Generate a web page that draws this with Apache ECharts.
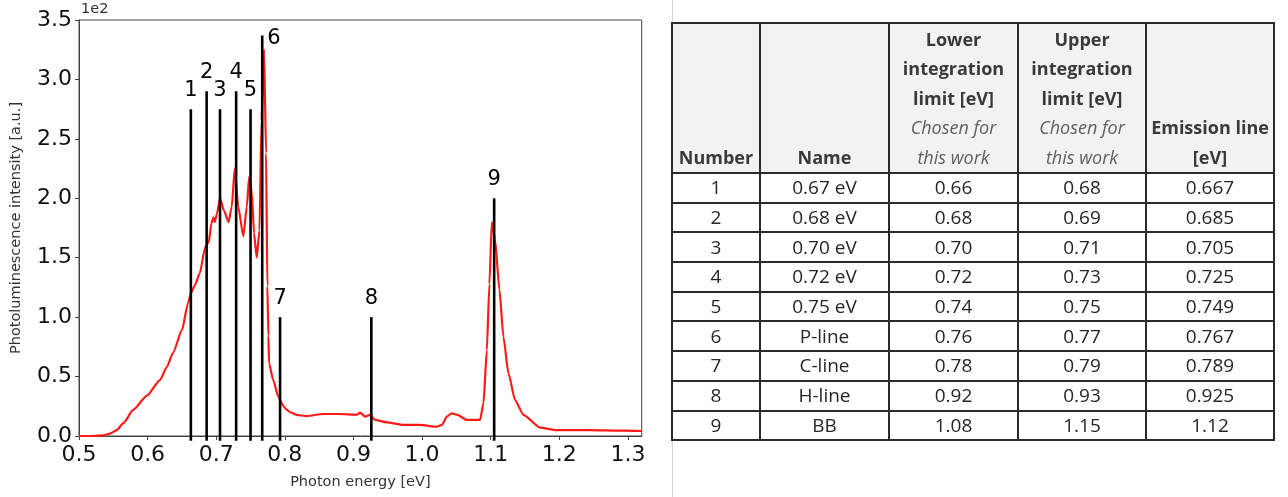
<!DOCTYPE html>
<html>
<head>
<meta charset="utf-8">
<script src="https://cdn.jsdelivr.net/npm/echarts@6/dist/echarts.min.js"></script>
<style>
  html, body { margin: 0; padding: 0; background: #fff; }
  #chart { position: absolute; left: 0; top: 0; width: 1288px; height: 497px; }
  #sep { position: absolute; left: 672px; top: 0; width: 1px; height: 497px; background: #d6d6d6; }
  #tbl { position: absolute; left: 671px; top: 22px; border-collapse: collapse; table-layout: fixed;
         width: 602px; font-family: "Open Sans", sans-serif; }
  #tbl td { border: 2px solid #2b2b2b; padding: 0; text-align: center; }
  #tbl tr.head td { background: #f2f2f2; height: 148px; vertical-align: bottom; font-weight: bold;
         font-size: 18px; line-height: 29.5px; color: #3a3a3a; }
  #tbl tr.head td i { font-weight: normal; color: #606060; }
  #tbl tr.row td { height: 27.7px; font-size: 19px; line-height: 27px; color: #262626; vertical-align: middle; }
</style>
</head>
<body>
<div id="chart"></div>
<div id="sep"></div>
<table id="tbl"></table>
<script>
// ---- spectrum data (photon energy [eV], intensity [a.u.]) ----
const energy = [0.500, 0.520, 0.535, 0.545, 0.555, 0.565, 0.579, 0.599, 0.618, 0.628, 0.637, 0.650, 0.659, 0.663,
  0.669, 0.676, 0.684, 0.689, 0.693, 0.696, 0.698, 0.701, 0.7055, 0.711, 0.718, 0.7226, 0.727, 0.732, 0.7395,
  0.7445, 0.748, 0.752, 0.755, 0.759, 0.763, 0.766, 0.7697, 0.7726, 0.7745, 0.776, 0.777, 0.783, 0.7905, 0.798,
  0.803, 0.8076, 0.817, 0.832, 0.856, 0.880, 0.905, 0.9096, 0.917, 0.924, 0.9315, 0.9485, 0.973, 0.997, 1.0214,
  1.029, 1.036, 1.043, 1.0506, 1.065, 1.0845, 1.0894, 1.0943, 1.0981, 1.1016, 1.1064, 1.1127, 1.1185, 1.1258,
  1.1356, 1.1477, 1.172, 1.196, 1.245, 1.2935, 1.32];
const intensity = [0, 0, 0.5, 2, 5, 11, 22, 34, 47, 58, 70, 89, 112, 120,
  127, 137, 159, 163, 179, 184, 180, 187, 200, 190, 180, 193, 225, 193, 168,
  193, 218, 204, 171, 150, 173, 266, 325, 238, 126, 84, 61, 47, 33, 25,
  22, 20, 17.7, 16.8, 18.5, 18.5, 18, 19.6, 16.3, 17.7, 13.5, 11.5, 9.3, 9.3, 7.8,
  9.3, 16.3, 19, 18, 13.5, 13.5, 27.5, 72, 128, 180, 165, 123, 83.5, 52.7,
  30, 17.7, 7, 5, 5, 4.5, 4.2];

// ---- marker lines ----
const markerLabels = ['1', '2', '3', '4', '5', '6', '7', '8', '9'];
const markerX = [0.663, 0.686, 0.7055, 0.729, 0.750, 0.767, 0.793, 0.926, 1.105];
const markerTop = [275, 290, 275, 290, 275, 337, 100, 100, 200];
const markerLabelSide = ['top', 'top', 'top', 'top', 'top', 'right', 'top', 'top', 'top'];

// ---- axis ticks ----
const xTicks = [0.5, 0.6, 0.7, 0.8, 0.9, 1.0, 1.1, 1.2, 1.3];
const yTicks = [0, 50, 100, 150, 200, 250, 300, 350];

// ---- table ----
const tableHeader = ['Number', 'Name',
  'Lower<br>integration<br>limit [eV]<br><i>Chosen for<br>this work</i>',
  'Upper<br>integration<br>limit [eV]<br><i>Chosen for<br>this work</i>',
  'Emission line<br>[eV]'];
const colWidths = [88, 129, 129, 128, 128];
const tNumber = ['1', '2', '3', '4', '5', '6', '7', '8', '9'];
const tName = ['0.67 eV', '0.68 eV', '0.70 eV', '0.72 eV', '0.75 eV', 'P-line', 'C-line', 'H-line', 'BB'];
const tLower = ['0.66', '0.68', '0.70', '0.72', '0.74', '0.76', '0.78', '0.92', '1.08'];
const tUpper = ['0.68', '0.69', '0.71', '0.73', '0.75', '0.77', '0.79', '0.93', '1.15'];
const tEmission = ['0.667', '0.685', '0.705', '0.725', '0.749', '0.767', '0.789', '0.925', '1.12'];

// build table
(function () {
  const t = document.getElementById('tbl');
  let html = '<colgroup>' + colWidths.map(w => '<col style="width:' + w + 'px">').join('') + '</colgroup>';
  html += '<tr class="head">' + tableHeader.map(h => '<td>' + h + '</td>').join('') + '</tr>';
  for (let i = 0; i < tNumber.length; i++) {
    html += '<tr class="row"><td>' + tNumber[i] + '</td><td>' + tName[i] + '</td><td>' + tLower[i] +
      '</td><td>' + tUpper[i] + '</td><td>' + tEmission[i] + '</td></tr>';
  }
  t.innerHTML = html;
})();

const chart = echarts.init(document.getElementById('chart'), null, { renderer: 'canvas' });
const FONT = 'DejaVu Sans';

chart.setOption({
  animation: false,
  backgroundColor: 'transparent',
  grid: { left: 79, top: 20, width: 562.7, height: 416, show: true, borderColor: '#444', borderWidth: 1,
          backgroundColor: 'transparent' },
  graphic: [{ type: 'text', left: 81, top: 2,
              style: { text: '1e2', fontSize: 14.5, fontFamily: FONT, fill: '#333' } }],
  xAxis: {
    type: 'value', min: 0.5, max: 1.32, interval: 0.1,
    name: 'Photon energy [eV]', nameLocation: 'middle', nameGap: 39,
    nameTextStyle: { fontSize: 14.5, fontFamily: FONT, color: '#333' },
    axisLine: { show: true, lineStyle: { color: '#444', width: 1 } },
    axisTick: { show: true, length: 4, lineStyle: { color: '#444' }, customValues: xTicks },
    axisLabel: { fontSize: 22, fontFamily: FONT, color: '#111', margin: 8, customValues: xTicks,
                 formatter: v => v.toFixed(1) },
    splitLine: { show: false }
  },
  yAxis: {
    type: 'value', min: 0, max: 350, interval: 50,
    name: 'Photoluminescence intensity [a.u.]', nameLocation: 'middle', nameGap: 55,
    nameTextStyle: { fontSize: 14.5, fontFamily: FONT, color: '#333' },
    axisLine: { show: true, lineStyle: { color: '#444', width: 1 } },
    axisTick: { show: true, length: 4, lineStyle: { color: '#444' }, customValues: yTicks },
    axisLabel: { fontSize: 22, fontFamily: FONT, color: '#111', margin: 7, customValues: yTicks,
                 formatter: v => (v / 100).toFixed(1) },
    splitLine: { show: false }
  },
  series: [
    {
      type: 'line', data: energy.map((e, i) => [e, intensity[i]]),
      showSymbol: false, smooth: 0.2, smoothMonotone: 'x',
      lineStyle: { color: '#ff1a1a', width: 2.2 }, z: 2
    },
    {
      type: 'custom', clip: false, z: 3,
      data: markerX.map((x, i) => [x, markerTop[i], i]),
      encode: { x: 0, y: 1 },
      renderItem: function (params, api) {
        const x = api.value(0), top = api.value(1), idx = api.value(2);
        const pTop = api.coord([x, top]);
        const pBot = api.coord([x, -4]);
        const side = markerLabelSide[idx];
        const tx = side === 'right' ? pTop[0] + 5 : pTop[0];
        const ty = side === 'right' ? pTop[1] + 3 : pTop[1] - 19;
        return {
          type: 'group',
          children: [
            { type: 'line', shape: { x1: pTop[0], y1: pTop[1], x2: pBot[0], y2: pBot[1] },
              style: { stroke: '#000', lineWidth: 2.6 } },
            { type: 'text', x: tx, y: ty,
              style: { text: markerLabels[idx], fontSize: 21, fontFamily: FONT, fill: '#000',
                       align: side === 'right' ? 'left' : 'center', verticalAlign: 'middle' } }
          ]
        };
      }
    }
  ]
});
</script>
</body>
</html>
